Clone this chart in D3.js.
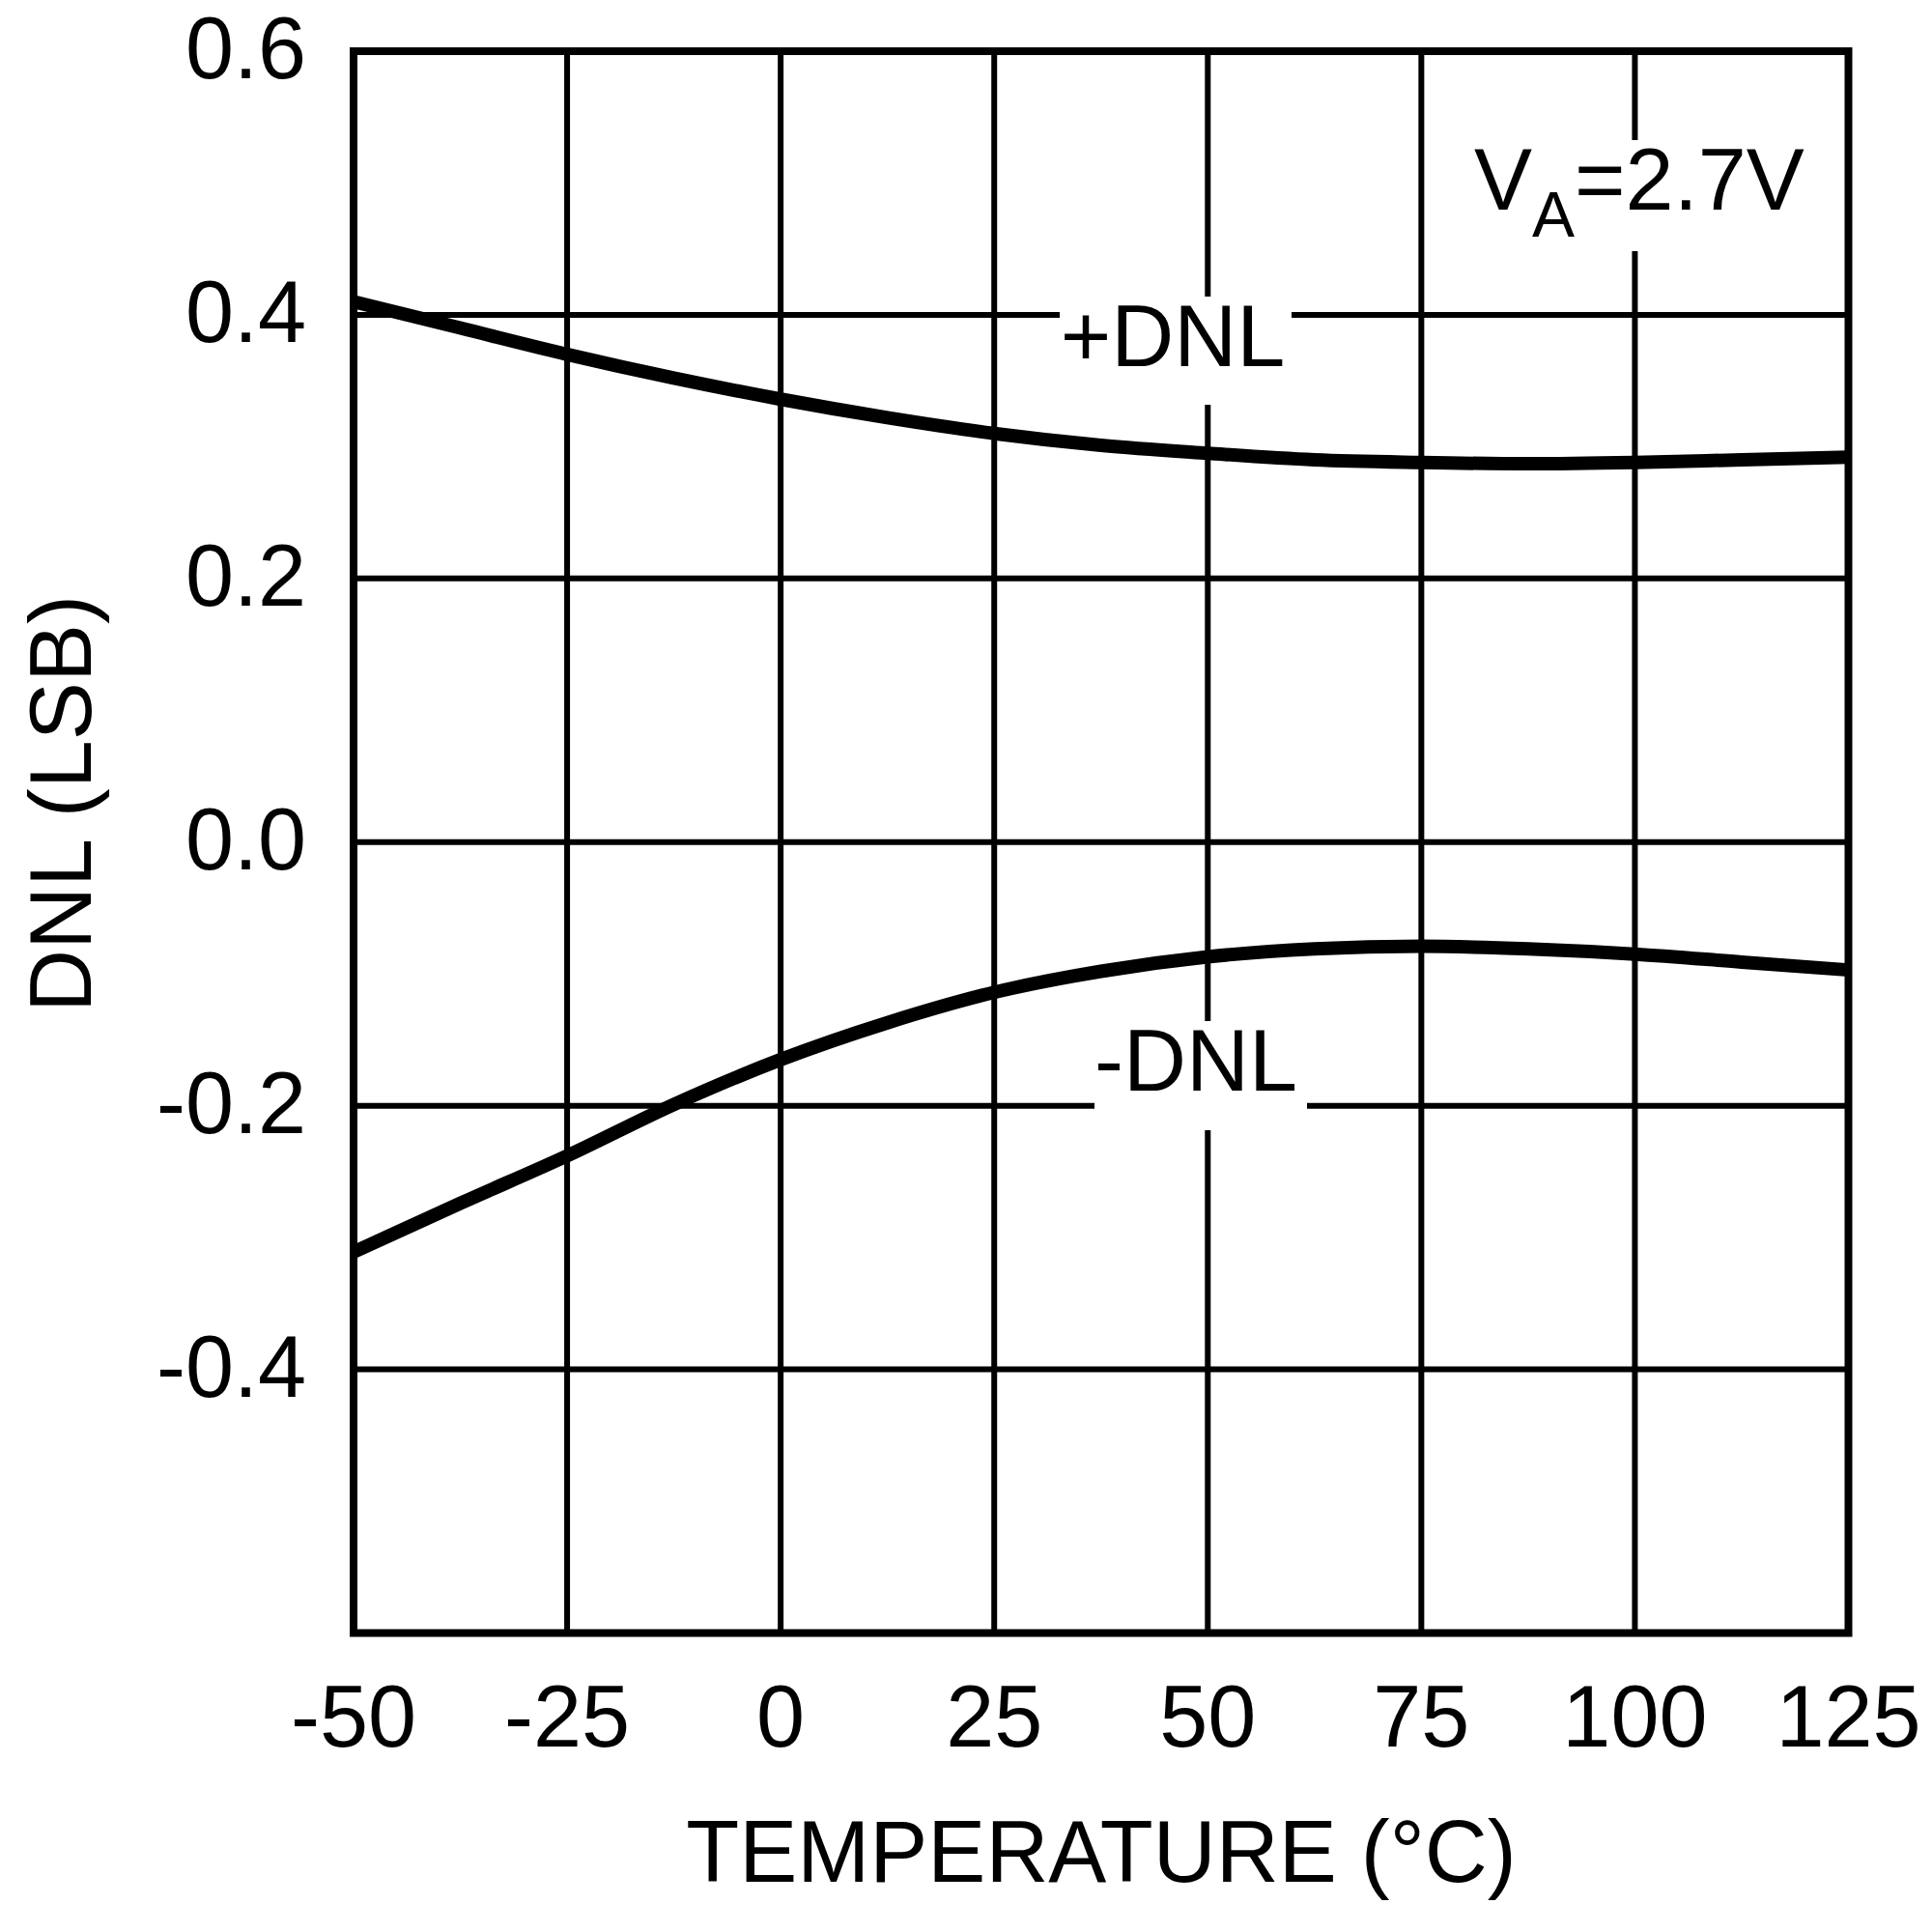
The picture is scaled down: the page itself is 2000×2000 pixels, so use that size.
<!DOCTYPE html>
<html>
<head>
<meta charset="utf-8">
<script src="https://cdn.jsdelivr.net/npm/d3@7"></script>
<style>
  html, body { margin: 0; padding: 0; background: #fff; }
  svg { display: block; }
  text { font-family: "Liberation Sans", Arial, sans-serif; fill: #000; }
</style>
</head>
<body>
<svg id="chart" width="2000" height="2000"></svg>
<script>
// ---- data ----
const temperatures = [-50, -37.5, -25, -12.5, 0, 12.5, 25, 37.5, 50, 62.5, 75, 87.5, 100, 112.5, 125];
const posDNL = [0.410, 0.390, 0.370, 0.352, 0.336, 0.322, 0.310, 0.301, 0.295, 0.290, 0.288, 0.287, 0.288, 0.290, 0.292];
const negDNL = [-0.311, -0.274, -0.238, -0.199, -0.165, -0.137, -0.114, -0.098, -0.087, -0.081, -0.079, -0.081, -0.085, -0.091, -0.097];
const xTicks = [-50, -25, 0, 25, 50, 75, 100, 125];
const yTicks = [-0.4, -0.2, 0.0, 0.2, 0.4, 0.6];
const yGrid = [-0.4, -0.2, 0.0, 0.2, 0.4];
const xGrid = [-25, 0, 25, 50, 75, 100];

// ---- layout ----
const L = 366, R = 1913.5, T = 53, B = 1690.5;
const x = d3.scaleLinear().domain([-50, 125]).range([L, R]);
const y = d3.scaleLinear().domain([-0.6, 0.6]).range([B, T]);

const svg = d3.select("#chart");
svg.append("rect").attr("width", 2000).attr("height", 2000).attr("fill", "#fff");

// grid
const grid = svg.append("g").attr("stroke", "#000").attr("stroke-width", 6);
grid.selectAll(".hg").data(yGrid).join("line")
  .attr("x1", L).attr("x2", R).attr("y1", d => y(d)).attr("y2", d => y(d));
grid.selectAll(".vg").data(xGrid).join("line")
  .attr("y1", T).attr("y2", B).attr("x1", d => x(d)).attr("x2", d => x(d));

// white backgrounds behind annotations
svg.append("rect").attr("x", 1097).attr("y", 307).attr("width", 240).attr("height", 112).attr("fill", "#fff");
svg.append("rect").attr("x", 1133).attr("y", 1057).attr("width", 220).attr("height", 113).attr("fill", "#fff");
svg.append("rect").attr("x", 1505).attr("y", 145).attr("width", 385).attr("height", 115).attr("fill", "#fff");

// frame
svg.append("rect").attr("x", L).attr("y", T).attr("width", R - L).attr("height", B - T)
  .attr("fill", "none").attr("stroke", "#000").attr("stroke-width", 8);

// curves
const line = d3.line().x((d, i) => x(temperatures[i])).y(d => y(d)).curve(d3.curveMonotoneX);
[posDNL, negDNL].forEach(s => {
  svg.append("path").attr("d", line(s)).attr("fill", "none")
    .attr("stroke", "#000").attr("stroke-width", 14).attr("stroke-linejoin", "round");
});

// tick labels
svg.append("g").selectAll("text").data(yTicks).join("text")
  .attr("x", 317).attr("y", d => y(d) + 28)
  .attr("text-anchor", "end").attr("font-size", 90)
  .text(d => d3.format(".1f")(d).replace("−", "-"));

svg.append("g").selectAll("text").data(xTicks).join("text")
  .attr("x", d => x(d)).attr("y", B + 117.5)
  .attr("text-anchor", "middle").attr("font-size", 90)
  .text(d => String(d));

// axis titles
svg.append("text").attr("x", 1140).attr("y", 1948).attr("text-anchor", "middle")
  .attr("font-size", 90).text("TEMPERATURE (°C)");
svg.append("text").attr("transform", "translate(94,832) rotate(-90)")
  .attr("text-anchor", "middle").attr("font-size", 90).text("DNL (LSB)");

// annotations
svg.append("text").attr("x", 1214).attr("y", 379).attr("text-anchor", "middle")
  .attr("font-size", 90).text("+DNL");
svg.append("text").attr("x", 1238).attr("y", 1129).attr("text-anchor", "middle")
  .attr("font-size", 90).text("-DNL");

const va = svg.append("text").attr("x", 1526).attr("y", 216.7).attr("font-size", 90);
va.append("tspan").text("V");
va.append("tspan").attr("font-size", 66).attr("dy", 28).text("A");
va.append("tspan").attr("dy", -28).text("=2.7V");
</script>
</body>
</html>
